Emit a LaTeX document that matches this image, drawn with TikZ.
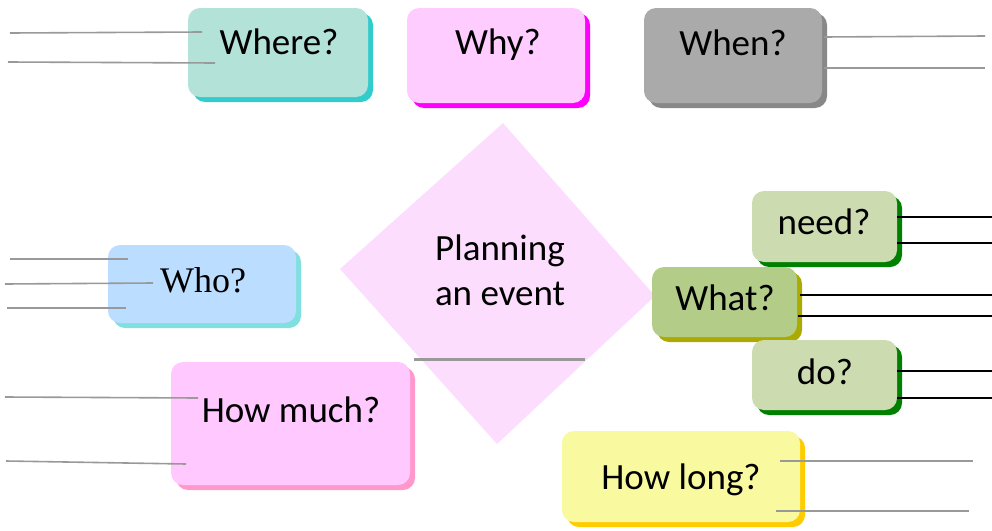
\documentclass[tikz,border=0pt]{standalone}
\usepackage{fontspec}
\setmainfont{Carlito}
\newfontfamily\whofont{Liberation Serif}
\usetikzlibrary{shadows}
\definecolor{whereF}{HTML}{B3E2D8}\definecolor{whereS}{HTML}{33CCCC}
\definecolor{whyF}{HTML}{FFCCFF}\definecolor{whyS}{HTML}{FF00FF}
\definecolor{whenF}{HTML}{AAAAAA}\definecolor{whenS}{HTML}{888888}
\definecolor{needF}{HTML}{CCDCB0}\definecolor{needS}{HTML}{008000}
\definecolor{whatF}{HTML}{B3CC88}\definecolor{whatS}{HTML}{AAAA00}
\definecolor{whoF}{HTML}{BBDDFF}\definecolor{whoS}{HTML}{80E0E0}
\definecolor{muchF}{HTML}{FFC8FF}\definecolor{muchS}{HTML}{FF99CC}
\definecolor{longF}{HTML}{F9F9A0}\definecolor{longS}{HTML}{FFCC00}
\definecolor{diaF}{HTML}{FDDDFD}
\definecolor{lineG}{HTML}{999999}
\tikzset{
  qbox/.style 2 args={rectangle, rounded corners=12pt, draw=none, inner sep=0pt, fill=#1,
    drop shadow={shadow xshift=5pt, shadow yshift=-5pt, fill=#2, opacity=1}},
  qtext/.style={anchor=base, inner sep=0pt, font=\fontsize{37}{44}\selectfont},
  gline/.style={draw=lineG, line width=1.6pt},
  bline/.style={draw=black, line width=1.6pt},
}
\begin{document}
\begin{tikzpicture}[x=1pt,y=-1pt]
\useasboundingbox (0,0) rectangle (992,530);
% central diamond
\coordinate (dT) at (503,123);
\coordinate (dR) at (655,296);
\coordinate (dB) at (497,444);
\coordinate (dL) at (340,269);
\fill[diaF] (dT) -- (dR) -- (dB) -- (dL) -- cycle;
\node[qtext] (plan1) at (500,260) {Planning};
\node[qtext] (plan2) at (500,305) {an event};
\coordinate (blankL) at (414,359);
\coordinate (blankR) at (585,359);
\draw[draw=lineG, line width=3pt] (blankL) -- (blankR);
% boxes
\node[qbox={whereF}{whereS}, minimum width=180pt, minimum height=89pt] (where) at (278,52.5) {};
\node[qbox={whyF}{whyS}, minimum width=178pt, minimum height=95pt] (why) at (496,55.5) {};
\node[qbox={whenF}{whenS}, minimum width=178pt, minimum height=95pt] (when) at (733,55.5) {};
\node[qbox={needF}{needS}, minimum width=145pt, minimum height=71pt] (need) at (824.5,226.5) {};
\node[qbox={whatF}{whatS}, minimum width=145pt, minimum height=70pt] (what) at (724.5,302) {};
\node[qbox={needF}{needS}, minimum width=145pt, minimum height=70pt] (do) at (824.5,375) {};
\node[qbox={whoF}{whoS}, minimum width=188pt, minimum height=78pt] (who) at (202,284) {};
\node[qbox={muchF}{muchS}, minimum width=239pt, minimum height=123pt] (much) at (290.5,423.5) {};
\node[qbox={longF}{longS}, minimum width=238pt, minimum height=91pt] (long) at (681,476.5) {};
% texts
\node[qtext] (whereT) at (279,54) {Where?};
\node[qtext] (whyT) at (498,54) {Why?};
\node[qtext] (whenT) at (733,55) {When?};
\node[qtext] (needT) at (824,234) {need?};
\node[qtext] (whatT) at (725,310) {What?};
\node[qtext] (doT) at (825,384) {do?};
\node[qtext, font=\whofont\fontsize{36}{42}\selectfont] (whoT) at (203,292) {Who?};
\node[qtext] (muchT) at (291,422) {How much?};
\node[qtext] (longT) at (681,489) {How long?};
% answer lines
\coordinate (wh1a) at (10,33);   \coordinate (wh1b) at (202,32);
\coordinate (wh2a) at (8,62);    \coordinate (wh2b) at (215,63);
\draw[gline] (wh1a) -- (wh1b);
\draw[gline] (wh2a) -- (wh2b);
\coordinate (wn1a) at (824,37);  \coordinate (wn1b) at (985,36);
\coordinate (wn2a) at (824,68);  \coordinate (wn2b) at (985,68);
\draw[gline] (wn1a) -- (wn1b);
\draw[gline] (wn2a) -- (wn2b);
\coordinate (nd1a) at (897,217); \coordinate (nd1b) at (992,217);
\coordinate (nd2a) at (897,243); \coordinate (nd2b) at (992,243);
\draw[bline] (nd1a) -- (nd1b);
\draw[bline] (nd2a) -- (nd2b);
\coordinate (wt1a) at (800,295); \coordinate (wt1b) at (992,295);
\coordinate (wt2a) at (798,316); \coordinate (wt2b) at (992,316);
\draw[bline] (wt1a) -- (wt1b);
\draw[bline] (wt2a) -- (wt2b);
\coordinate (do1a) at (897,371); \coordinate (do1b) at (992,371);
\coordinate (do2a) at (897,398); \coordinate (do2b) at (992,398);
\draw[bline] (do1a) -- (do1b);
\draw[bline] (do2a) -- (do2b);
\coordinate (wo1a) at (10,259);  \coordinate (wo1b) at (128,259);
\coordinate (wo2a) at (5,284);   \coordinate (wo2b) at (153,283);
\coordinate (wo3a) at (7,308);   \coordinate (wo3b) at (126,308);
\draw[gline] (wo1a) -- (wo1b);
\draw[gline] (wo2a) -- (wo2b);
\draw[gline] (wo3a) -- (wo3b);
\coordinate (hm1a) at (5,397);   \coordinate (hm1b) at (198,398);
\coordinate (hm2a) at (6,461);   \coordinate (hm2b) at (186,464);
\draw[gline] (hm1a) -- (hm1b);
\draw[gline] (hm2a) -- (hm2b);
\coordinate (hl1a) at (780,461); \coordinate (hl1b) at (973,461);
\coordinate (hl2a) at (776,511); \coordinate (hl2b) at (969,511);
\draw[gline] (hl1a) -- (hl1b);
\draw[gline] (hl2a) -- (hl2b);
\end{tikzpicture}
\end{document}
